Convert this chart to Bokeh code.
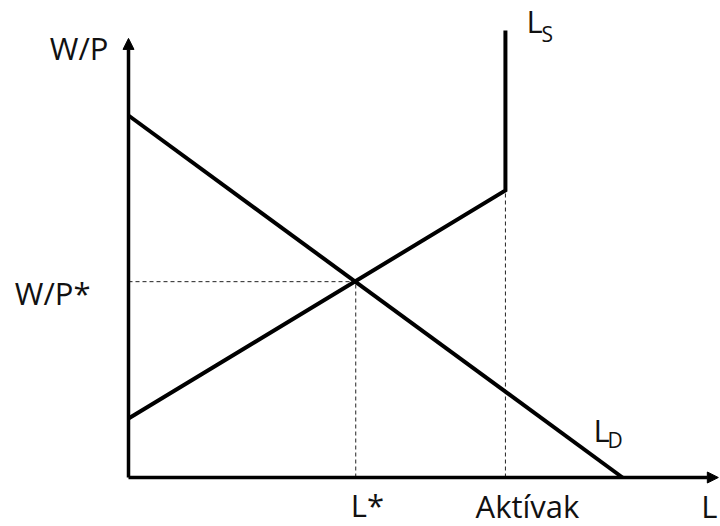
from bokeh.plotting import figure
from bokeh.models import Range1d, Arrow, NormalHead, Label
from bokeh.embed import file_html
from bokeh.resources import INLINE

# ---- data (economic diagram values) ----
ld_L = [0.0, 10.0]            # labour demand: L
ld_W = [10.0, 0.0]            # labour demand: W/P
ls_L = [0.0, 7.63, 7.63]      # labour supply: L
ls_W = [1.63, 7.93, 12.35]    # labour supply: W/P
L_star = 4.6
W_star = 5.41
L_active = 7.63
W_active = 7.93
x_axis_end = 11.94
y_axis_end = 12.13

FONT = "Open Sans"
BIG = "31px"
SUB = "21px"
SHIFT_BIG = 12   # compensation for the rendered baseline position
SHIFT_SUB = 8

W, H = 720, 526
px_x = 49.4
px_y = 36.2
ox, oy = 128, 49  # origin in figure pixels (from left, from bottom)

p = figure(width=W, height=H, output_backend="svg", toolbar_location=None,
           x_range=Range1d(-ox / px_x, (W - ox) / px_x),
           y_range=Range1d(-oy / px_y, (H - oy) / px_y),
           min_border=0, outline_line_color=None)
p.axis.visible = False
p.grid.visible = False
p.background_fill_color = "white"
p.border_fill_color = "white"

# dashed guides
p.line([0, L_star], [W_star, W_star], line_color="#222222", line_width=1, line_dash="4 3")
p.line([L_star, L_star], [0, W_star], line_color="#222222", line_width=1, line_dash="4 3")
p.line([L_active, L_active], [0, W_active], line_color="#222222", line_width=1, line_dash="4 3")

# axes with arrows
p.add_layout(Arrow(end=NormalHead(size=11, fill_color="black", line_color="black", line_width=1),
                   x_start=0, y_start=0, x_end=0, y_end=y_axis_end,
                   line_color="black", line_width=3.5))
p.add_layout(Arrow(end=NormalHead(size=11, fill_color="black", line_color="black", line_width=1),
                   x_start=0, y_start=0, x_end=x_axis_end, y_end=0,
                   line_color="black", line_width=3.5))

# curves
p.line(ld_L, ld_W, line_color="black", line_width=4)
p.line(ls_L, ls_W, line_color="black", line_width=4, line_join="miter")

def lab(x, y, text, dx, dy, size=BIG, align="left"):
    shift = SHIFT_SUB if size == SUB else SHIFT_BIG
    p.add_layout(Label(x=x, y=y, text=text, x_offset=dx, y_offset=dy + shift,
                       text_font=FONT, text_font_size=size, text_color="#111111",
                       text_align=align, text_baseline="alphabetic"))

lab(0, y_axis_end, "W/P", -20, -22, align="right")
lab(0, W_star, "W/P*", -38, -23, align="right")
lab(L_star, 0, "L*", -5, -39)
lab(L_active, 0, "Aktívak", 22, -40, align="center")
lab(x_axis_end, 0, "L", -1, -40, align="right")
lab(ls_L[-1], ls_W[-1], "L", 21, -3)
lab(ls_L[-1], ls_W[-1], "S", 36, -12, size=SUB)
lab(ld_L[-1], ld_W[-1], "L", -29, 36)
lab(ld_L[-1], ld_W[-1], "D", -15, 30, size=SUB)

open("out.html", "w").write(file_html(p, INLINE))
